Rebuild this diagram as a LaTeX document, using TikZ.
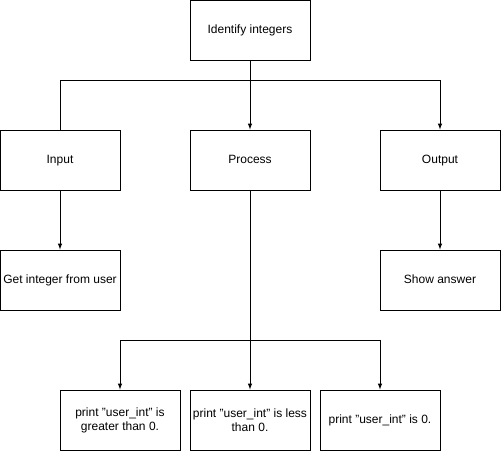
\documentclass[tikz,border=0pt]{standalone}
\usepackage{fontspec}
\setmainfont{Liberation Sans}
\usepackage{tikz}
\usetikzlibrary{arrows}
\tikzstyle{Step}=[minimum width=120pt, minimum height=60pt, inner sep=1pt, fill=white, line width=1pt, draw=black, shape=rectangle, text=black, align=center, font=\fontsize{12}{14}\selectfont]
\tikzstyle{Label}=[style=Step, text height=9pt, text depth=3pt]
\tikzstyle{arrow}=[line width=1pt]
\begin{document}
\begin{tikzpicture}[x=1pt, y=-1pt]
	\useasboundingbox (0,0) rectangle (501,451);
	% top level
	\node [style=Label] (identify) at (250, 30) {Identify integers};
	% second level
	\node [style=Label] (input) at (60, 160) {Input};
	\node [style=Label] (process) at (250, 160) {Process};
	\node [style=Label] (output) at (440, 160) {Output};
	% third level
	\node [style=Label] (getint) at (60, 280) {Get integer from user};
	\node [style=Label] (answer) at (440, 280) {Show answer};
	% process results
	\node [style=Step] (greater) at (120, 420) {print "user\_int" is\\greater than 0.};
	\node [style=Step] (less) at (250, 420) {print "user\_int" is less\\than 0.};
	\node [style=Label] (zero) at (380, 420) {print "user\_int" is 0.};
	% split points
	\coordinate (split_top) at (250, 80);
	\coordinate (split_process) at (250, 340);

	% top level to second level
	\draw [->, style=arrow, >=latex] (identify) to (process);
	\draw [style=arrow] (split_top) -| (input);
	\draw [->, style=arrow, >=latex] (split_top) -| (output);
	% second level to third level
	\draw [->, style=arrow, >=latex] (input) to (getint);
	\draw [->, style=arrow, >=latex] (output) to (answer);
	% process results
	\draw [->, style=arrow, >=latex] (process) to (less);
	\draw [->, style=arrow, >=latex] (split_process) -| (greater);
	\draw [->, style=arrow, >=latex] (split_process) -| (zero);
\end{tikzpicture}
\end{document}
